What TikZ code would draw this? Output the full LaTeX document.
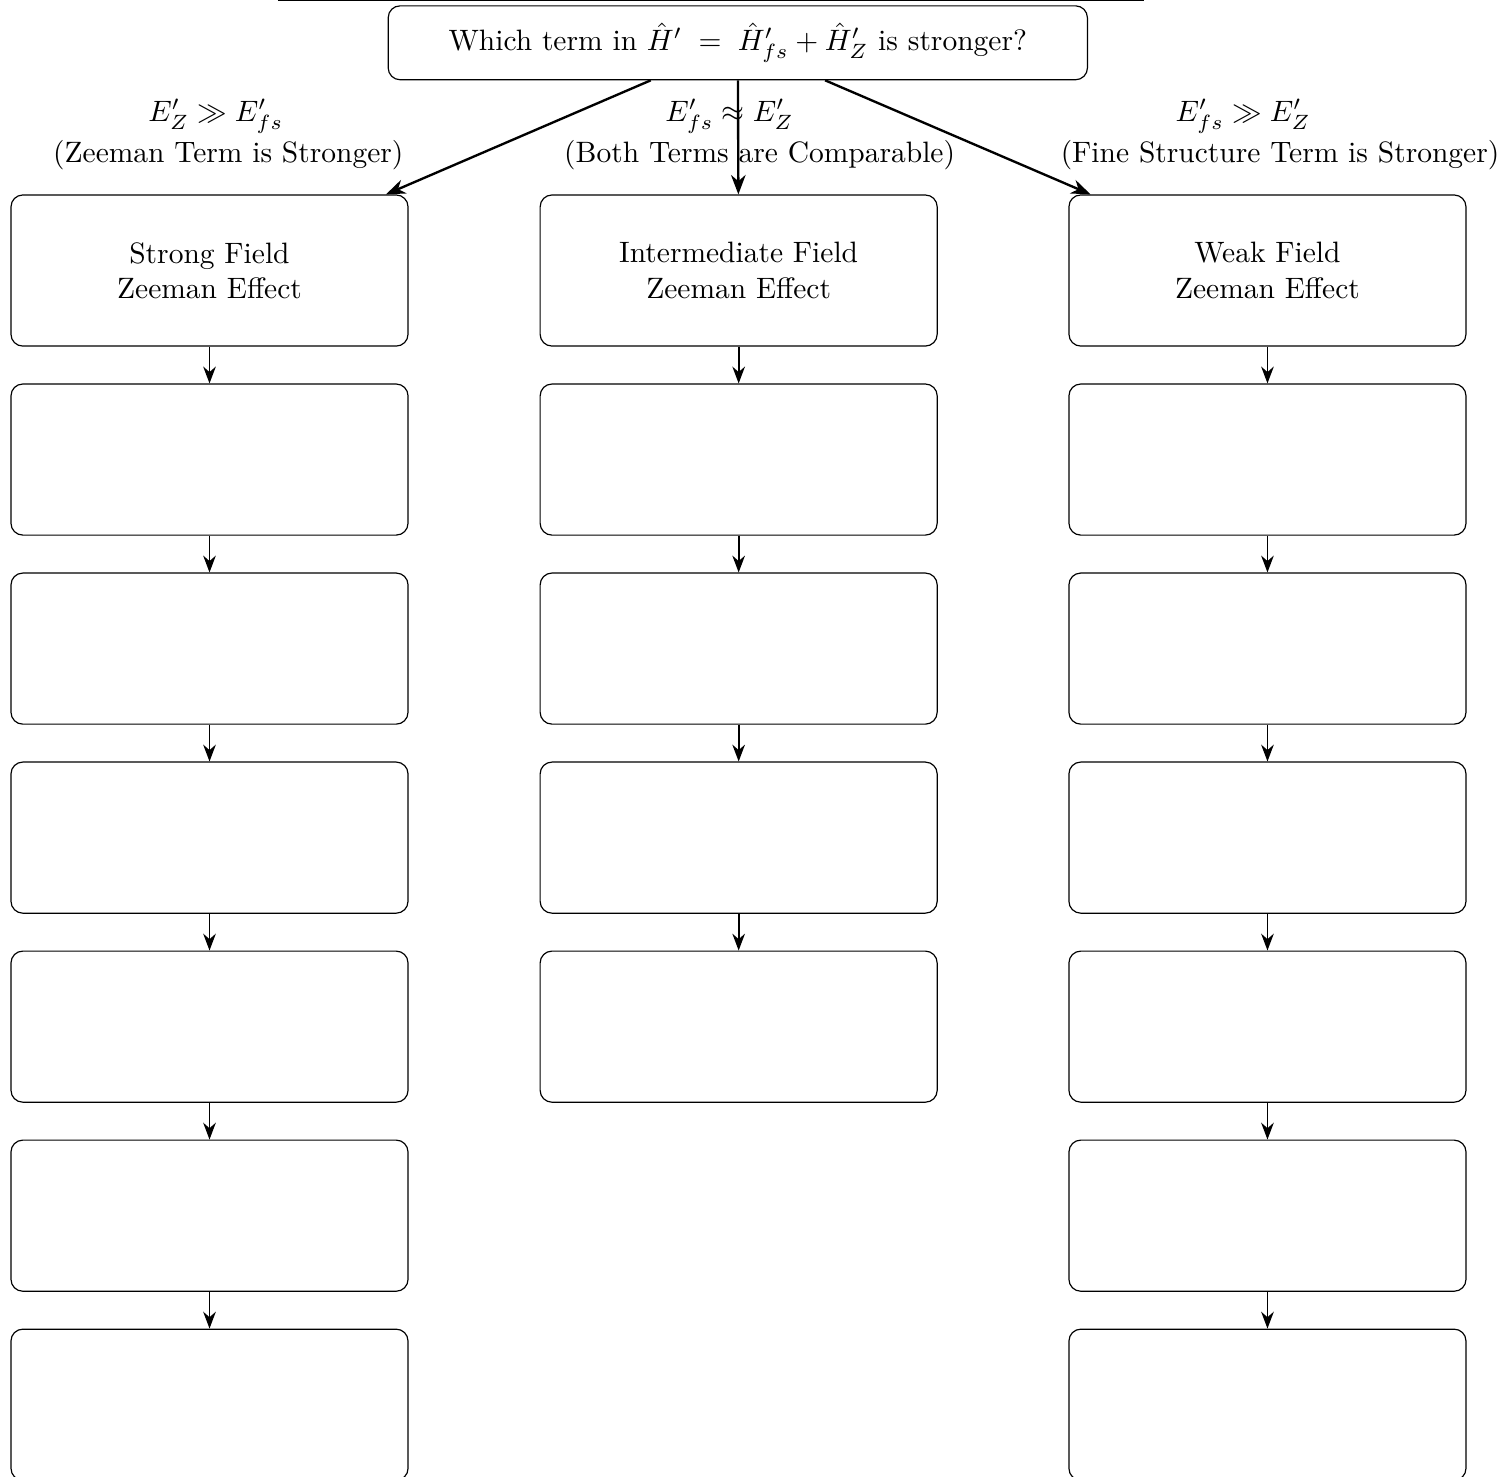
\documentclass[tikz,border=0pt]{standalone}
\usepackage{amsmath}
\usepackage{amssymb}
\usetikzlibrary{arrows.meta,positioning}

\tikzset{
  fieldbox/.style={draw, rounded corners, minimum width=4.73cm, minimum height=1.8cm, align=center, inner sep=2pt},
  questionbox/.style={draw, rounded corners, minimum width=8.33cm, minimum height=0.88cm, align=center},
  flow/.style={semithick, -{Stealth}},
  branch/.style={thick, -{Stealth}}
}

\begin{document}
\begin{tikzpicture}
\useasboundingbox (0,0) rectangle (17.93,-17.585);
% Rule at the top
\draw (3.31,-0.01) -- (13.63,-0.01);
% Question
\node[questionbox] (question) at (8.79,-0.51) {Which term in $\hat{H}' \;=\; \hat{H}'_{fs} + \hat{H}'_{Z}$ is stronger?};
% First row
\node[fieldbox] (strong1) at (2.496,-3.223) {Strong Field\\Zeeman Effect};
\node[fieldbox] (inter1) at (8.80,-3.223) {Intermediate Field\\Zeeman Effect};
\node[fieldbox] (weak1) at (15.10,-3.223) {Weak Field\\Zeeman Effect};
% Empty steps below
\foreach \i in {2,...,7} {
  \node[fieldbox] (strong\i) at (2.496,{-3.223-2.252*(\i-1)}) {};
  \node[fieldbox] (weak\i) at (15.10,{-3.223-2.252*(\i-1)}) {};
}
\foreach \i in {2,...,5} {
  \node[fieldbox] (inter\i) at (8.80,{-3.223-2.252*(\i-1)}) {};
}
% Branches
\draw[branch] (question) -- (strong1);
\draw[branch] (question) -- (inter1);
\draw[branch] (question) -- (weak1);
% Conditions
\node (condstrong) at (2.57,-1.39) {$E'_{Z} \gg E'_{fs}$};
\node (descstrong) at (2.72,-1.85) {(Zeeman Term is Stronger)};
\node (condinter) at (8.69,-1.39) {$E'_{fs} \approx E'_{Z}$};
\node (descinter) at (9.05,-1.85) {(Both Terms are Comparable)};
\node (condweak) at (14.81,-1.39) {$E'_{fs} \gg E'_{Z}$};
\node (descweak) at (15.25,-1.85) {(Fine Structure Term is Stronger)};
% Steps
\foreach \i [evaluate=\i as \j using int(\i+1)] in {1,...,6} {
  \draw[flow] (strong\i) -- (strong\j);
  \draw[flow] (weak\i) -- (weak\j);
}
\foreach \i [evaluate=\i as \j using int(\i+1)] in {1,...,4} {
  \draw[flow] (inter\i) -- (inter\j);
}
\end{tikzpicture}
\end{document}
